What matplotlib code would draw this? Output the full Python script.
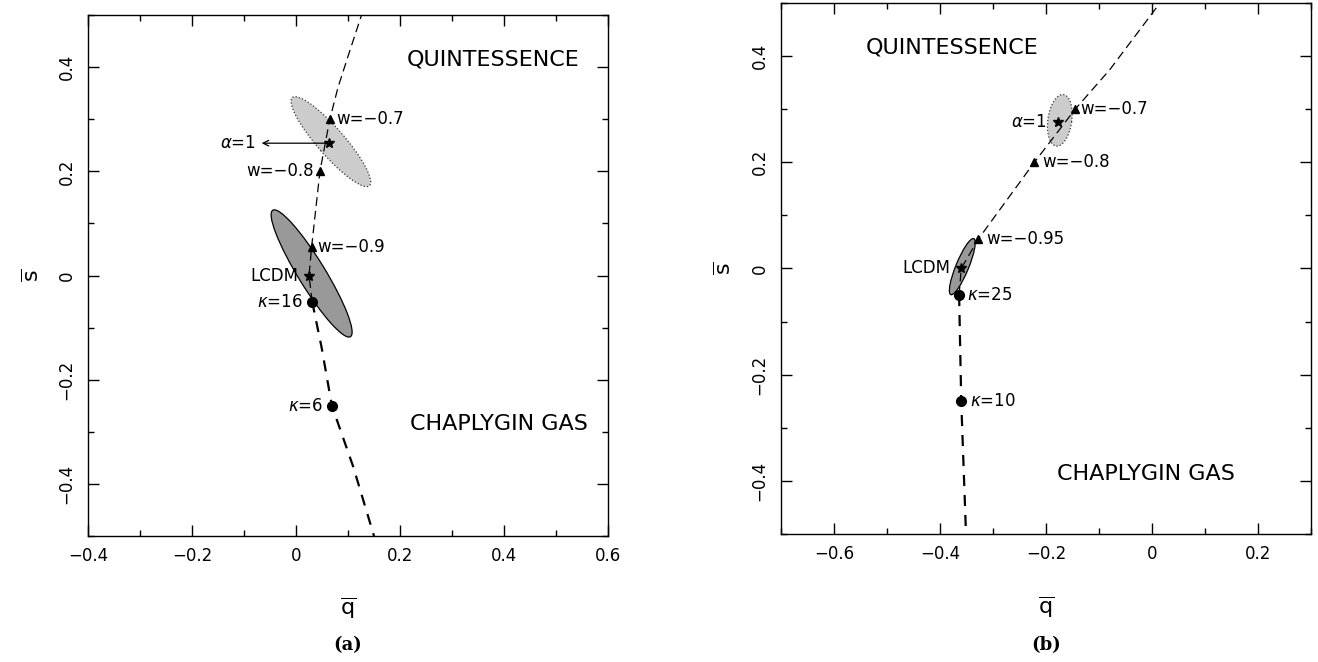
import matplotlib
matplotlib.use("Agg")
import matplotlib.pyplot as plt
from matplotlib.patches import Ellipse
from matplotlib.ticker import MultipleLocator, FixedLocator, FixedFormatter

plt.rcParams['font.family'] = ['DejaVu Sans']
plt.rcParams['mathtext.fontset'] = 'dejavusans'

MINUS = '\u2212'

# ---- panel (a) ----
a_quint_q = [0.031, 0.025, 0.030, 0.046, 0.065, 0.081, 0.104, 0.126]
a_quint_s = [-0.050, 0.000, 0.055, 0.200, 0.300, 0.362, 0.433, 0.500]
a_chap_q = [0.031, 0.049, 0.069, 0.110, 0.150]
a_chap_s = [-0.050, -0.137, -0.250, -0.367, -0.500]
a_w_q = [0.065, 0.046, 0.030]
a_w_s = [0.300, 0.200, 0.055]
a_w_lab = ['w=' + MINUS + '0.7', 'w=' + MINUS + '0.8', 'w=' + MINUS + '0.9']
a_kap_q = [0.031, 0.069]
a_kap_s = [-0.050, -0.250]
a_kap_lab = [r'$\kappa$=16', r'$\kappa$=6']
a_star_q = [0.025, 0.064]
a_star_s = [0.000, 0.254]
a_ell = [(0.067, 0.257, 0.225, 0.052, -48.8),   # alpha=1 fit
         (0.030, 0.004, 0.285, 0.052, -58.4)]   # LCDM fit
a_xticks = [-0.4, -0.2, 0.0, 0.2, 0.4, 0.6]
a_xlabels = [MINUS + '0.4', MINUS + '0.2', '0', '0.2', '0.4', '0.6']

# ---- panel (b) ----
b_quint_q = [-0.364, -0.360, -0.328, -0.222, -0.145, -0.080, 0.015]
b_quint_s = [-0.050, 0.000, 0.055, 0.200, 0.300, 0.374, 0.500]
b_chap_q = [-0.364, -0.362, -0.360, -0.351]
b_chap_s = [-0.050, -0.150, -0.250, -0.500]
b_w_q = [-0.145, -0.222, -0.328]
b_w_s = [0.300, 0.200, 0.055]
b_w_lab = ['w=' + MINUS + '0.7', 'w=' + MINUS + '0.8', 'w=' + MINUS + '0.95']
b_kap_q = [-0.364, -0.360]
b_kap_s = [-0.050, -0.250]
b_kap_lab = [r'$\kappa$=25', r'$\kappa$=10']
b_star_q = [-0.360, -0.177]
b_star_s = [0.000, 0.275]
b_ell = [(-0.174, 0.279, 0.098, 0.045, 82.0),
         (-0.358, 0.0035, 0.114, 0.024, 67.6)]
b_xticks = [-0.6, -0.4, -0.2, 0.0, 0.2]
b_xlabels = [MINUS + '0.6', MINUS + '0.4', MINUS + '0.2', '0', '0.2']

yticks = [-0.4, -0.2, 0.0, 0.2, 0.4]
ylabels = [MINUS + '0.4', MINUS + '0.2', '0', '0.2', '0.4']


def setup_axis(ax, xlim, xticks, xlabels):
    ax.set_xlim(xlim)
    ax.set_ylim(-0.5, 0.5)
    ax.xaxis.set_major_locator(FixedLocator(xticks))
    ax.xaxis.set_major_formatter(FixedFormatter(xlabels))
    ax.yaxis.set_major_locator(FixedLocator(yticks))
    ax.yaxis.set_major_formatter(FixedFormatter(ylabels))
    ax.xaxis.set_minor_locator(MultipleLocator(0.1))
    ax.yaxis.set_minor_locator(MultipleLocator(0.1))
    ax.tick_params(which='both', direction='in', top=True, right=True,
                   width=1.0, labelsize=12)
    ax.tick_params(which='major', length=8)
    ax.tick_params(which='minor', length=4)
    ax.tick_params(axis='x', pad=8)
    ax.tick_params(axis='y', pad=9, labelrotation=90)
    for lab in ax.get_yticklabels():
        lab.set_va('center')
    for sp in ax.spines.values():
        sp.set_linewidth(1.0)
    ax.set_xlabel(r'$\overline{\mathrm{q}}$', fontsize=16)
    ax.set_ylabel(r'$\overline{\mathrm{s}}$', fontsize=16)
    ax.xaxis.label.set_va('center')
    ax.yaxis.label.set_va('center')
    ax.xaxis.set_label_coords(0.5, -0.138)
    ax.yaxis.set_label_coords(-0.107, 0.5)


def draw_panel(ax, ell, quint_q, quint_s, chap_q, chap_s,
               w_q, w_s, kap_q, kap_s, star_q, star_s):
    light, dark = ell
    ax.add_patch(Ellipse(light[:2], light[2], light[3], angle=light[4],
                         facecolor='#cccccc', edgecolor='#333333',
                         linestyle=':', linewidth=0.9, zorder=1))
    ax.add_patch(Ellipse(dark[:2], dark[2], dark[3], angle=dark[4],
                         facecolor='#999999', edgecolor='black',
                         linewidth=0.9, zorder=1))
    ax.plot(quint_q, quint_s, color='black', linewidth=0.9,
            dashes=(7, 4), zorder=2)
    ax.plot(chap_q, chap_s, color='black', linewidth=1.6,
            dashes=(5, 4), zorder=2)
    ax.plot(w_q, w_s, linestyle='none', marker='^', color='black',
            markersize=6, zorder=3)
    ax.plot(kap_q, kap_s, linestyle='none', marker='o', color='black',
            markersize=7, zorder=3)
    ax.plot(star_q, star_s, linestyle='none', marker='*', color='black',
            markersize=7.5, zorder=3)


def label(ax, q, s, text, dx, ha):
    ax.annotate(text, xy=(q, s), xytext=(dx, 0), textcoords='offset points',
                ha=ha, va='center', fontsize=12)


fig = plt.figure(figsize=(13.18, 6.62), dpi=100)
ax1 = fig.add_axes([0.0668, 0.1903, 0.3945, 0.787])
ax2 = fig.add_axes([0.5926, 0.1934, 0.4021, 0.8021])

# (a)
setup_axis(ax1, (-0.4, 0.6), a_xticks, a_xlabels)
draw_panel(ax1, a_ell, a_quint_q, a_quint_s, a_chap_q, a_chap_s,
           a_w_q, a_w_s, a_kap_q, a_kap_s, a_star_q, a_star_s)
label(ax1, a_w_q[0], a_w_s[0], a_w_lab[0], 5, 'left')
label(ax1, a_w_q[1], a_w_s[1], a_w_lab[1], -4, 'right')
label(ax1, a_w_q[2], a_w_s[2], a_w_lab[2], 4, 'left')
label(ax1, a_kap_q[0], a_kap_s[0], a_kap_lab[0], -7, 'right')
label(ax1, a_kap_q[1], a_kap_s[1], a_kap_lab[1], -6, 'right')
label(ax1, a_star_q[0], a_star_s[0], 'LCDM', -8, 'right')
ax1.annotate('', xy=(-0.066, a_star_s[1]), xytext=(a_star_q[1], a_star_s[1]),
             arrowprops=dict(arrowstyle='->', color='black', lw=0.9,
                             shrinkA=0, shrinkB=0))
ax1.text(-0.077, a_star_s[1], r'$\alpha$=1', ha='right', va='center',
         fontsize=12)
ax1.text(0.379, 0.414, 'QUINTESSENCE', ha='center', va='center', fontsize=16)
ax1.text(0.390, -0.285, 'CHAPLYGIN GAS', ha='center', va='center',
         fontsize=16)

# (b)
setup_axis(ax2, (-0.7, 0.3), b_xticks, b_xlabels)
draw_panel(ax2, b_ell, b_quint_q, b_quint_s, b_chap_q, b_chap_s,
           b_w_q, b_w_s, b_kap_q, b_kap_s, b_star_q, b_star_s)
label(ax2, b_w_q[0], b_w_s[0], b_w_lab[0], 4, 'left')
label(ax2, b_w_q[1], b_w_s[1], b_w_lab[1], 6, 'left')
label(ax2, b_w_q[2], b_w_s[2], b_w_lab[2], 6, 'left')
label(ax2, b_kap_q[0], b_kap_s[0], b_kap_lab[0], 6, 'left')
label(ax2, b_kap_q[1], b_kap_s[1], b_kap_lab[1], 6, 'left')
label(ax2, b_star_q[0], b_star_s[0], 'LCDM', -8, 'right')
label(ax2, b_star_q[1], b_star_s[1], r'$\alpha$=1', -8, 'right')
ax2.text(-0.377, 0.417, 'QUINTESSENCE', ha='center', va='center', fontsize=16)
ax2.text(-0.011, -0.387, 'CHAPLYGIN GAS', ha='center', va='center',
         fontsize=16)

fig.text(348 / 1318, 1 - 645 / 662, '(a)', ha='center', va='center',
         fontsize=13, fontweight='bold', family='DejaVu Serif')
fig.text(1046 / 1318, 1 - 645 / 662, '(b)', ha='center', va='center',
         fontsize=13, fontweight='bold', family='DejaVu Serif')

fig.savefig('out.png', dpi=100)
